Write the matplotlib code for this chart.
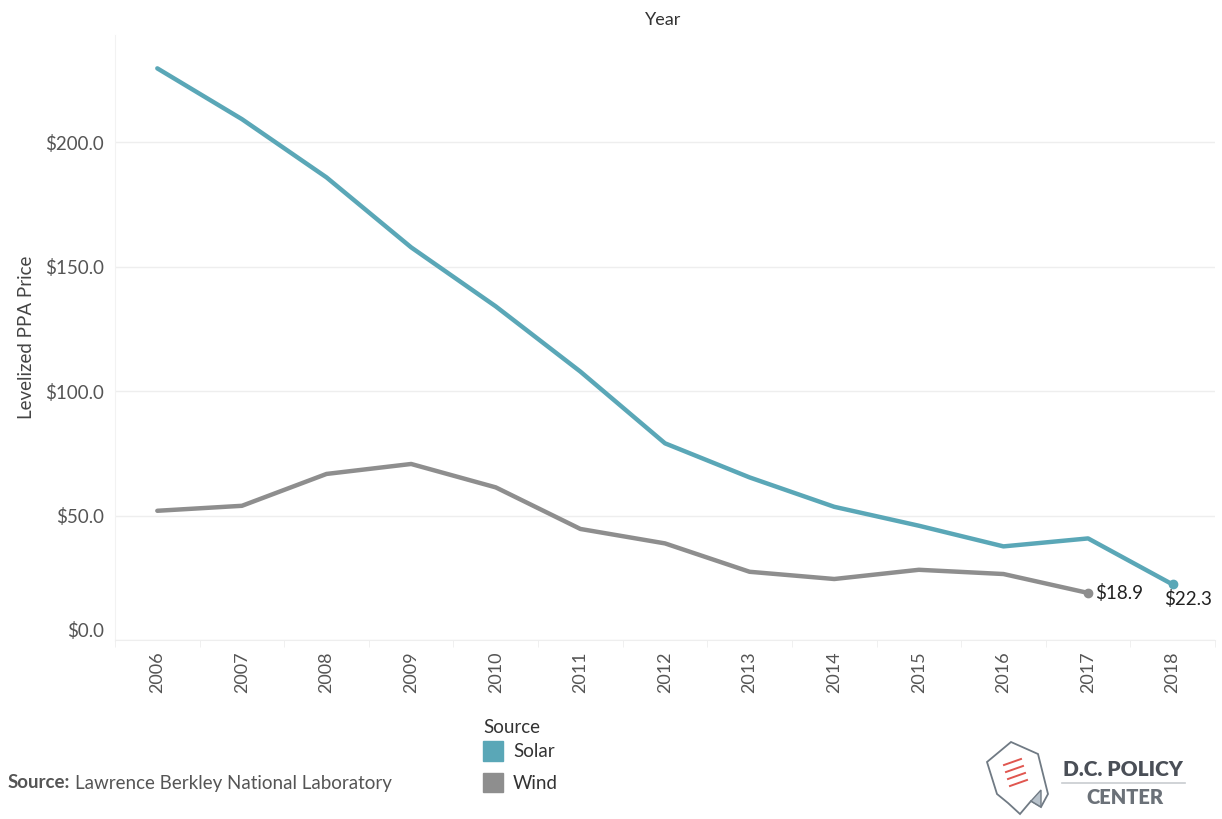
import matplotlib
matplotlib.use('Agg')
import numpy as np
from matplotlib import pyplot as plt
from matplotlib.patches import Patch, Polygon
from matplotlib.lines import Line2D

# data
years = [2006, 2007, 2008, 2009, 2010, 2011, 2012, 2013, 2014, 2015, 2016, 2017, 2018]
solar = [229.6, 209.2, 185.8, 157.7, 134.0, 107.8, 79.0, 65.3, 53.5, 45.9, 37.6, 40.8, 22.3]
wind_years = years[:-1]
wind = [51.9, 53.9, 66.7, 70.7, 61.3, 44.6, 38.8, 27.4, 24.5, 28.2, 26.5, 18.9]
yticks = [0, 50, 100, 150, 200]

solar_c = '#5aa7b7'
wind_c = '#8e8e8e'
txt_c = '#555555'

plt.rcParams['font.family'] = ['Lato', 'DejaVu Sans']

W, H = 1222, 819
fig = plt.figure(figsize=(W / 100, H / 100), dpi=100)
ax = fig.add_axes([115 / W, 1 - 640 / H, 1100 / W, 605 / H])

ax.plot(years, solar, color=solar_c, lw=3.2, solid_capstyle='round', zorder=3)
ax.plot(wind_years, wind, color=wind_c, lw=3.2, solid_capstyle='round', zorder=3)
ax.plot(years[-1], solar[-1], 'o', color=solar_c, ms=6, zorder=4)
ax.plot(wind_years[-1], wind[-1], 'o', color=wind_c, ms=6, zorder=4)
ax.annotate('$%.1f' % wind[-1], (wind_years[-1], wind[-1]), xytext=(5, 0),
            textcoords='offset points', va='center', ha='left', fontsize=13.5, color='#222222')
ax.annotate('$%.1f' % solar[-1], (years[-1], solar[-1]), xytext=(-6, -4),
            textcoords='offset points', va='top', ha='left', fontsize=13.5, color='#222222')

ax.set_xlim(2005.5, 2018.5)
ax.set_ylim(0, 243)
ax.set_yticks(yticks)
ax.set_yticklabels(['$%.1f' % v for v in yticks])
ax.set_xticks(years)
ax.set_xticklabels([str(y) for y in years], rotation=90)
ax.set_xticks(np.arange(2005.5, 2019, 1), minor=True)
ax.tick_params(axis='x', which='major', length=0, pad=8, labelsize=13, labelcolor=txt_c)
ax.tick_params(axis='x', which='minor', length=5, color='#eeeeee', direction='out')
ax.tick_params(axis='y', length=0, pad=8, labelsize=13.5, labelcolor=txt_c)
ax.get_yticklabels()[0].set_va('bottom')
ax.grid(axis='y', color='#eeeeee', lw=1)
ax.set_axisbelow(True)
for s in ['top', 'right']:
    ax.spines[s].set_visible(False)
ax.spines['left'].set_color('#f2f2f2')
ax.spines['bottom'].set_color('#eeeeee')

ax.set_ylabel('Levelized PPA Price', fontsize=13.5, color='#444444', labelpad=7)
fig.text(663 / W, 1 - 20 / H, 'Year', ha='center', va='center', fontsize=13, color='#333333')

# legend
handles = [Patch(color=solar_c), Patch(color=wind_c)]
leg = fig.legend(handles, ['Solar', 'Wind'], title='Source', loc='upper left',
                 bbox_to_anchor=(466 / W, 1 - 702 / H), frameon=False, fontsize=13.5,
                 title_fontsize=13.5, handlelength=1.1, handleheight=1.2,
                 handletextpad=0.5, labelspacing=0.65, alignment='left')
leg._legend_box.sep = 4
for t in leg.get_texts():
    t.set_color('#333333')
leg.get_title().set_color('#333333')

# source note
fig.canvas.draw()
src = fig.text(8 / W, 1 - 783 / H, 'Source:', fontsize=13.5, fontweight='bold', color='#555555', va='center')
bb = src.get_window_extent(fig.canvas.get_renderer())
fig.text((bb.x1 + 5) / W, 1 - 783 / H, 'Lawrence Berkley National Laboratory', fontsize=13.5,
         color='#555555', va='center')

# logo
fig.text(1123 / W, 1 - 769 / H, 'D.C. POLICY', fontsize=15, fontweight='heavy',
         color='#4a4f57', ha='center', va='center')
fig.add_artist(Line2D([1062 / W, 1185 / W], [1 - 783 / H, 1 - 783 / H], color='#c8ccd0', lw=1.2))
fig.text(1125 / W, 1 - 797 / H, 'CENTER', fontsize=14.5, fontweight='heavy',
         color='#6b7178', ha='center', va='center')
page = [(987, 762), (1011, 742), (1038, 754), (1048, 794), (1041, 807), (1031, 801),
        (1020, 814), (1008, 803), (997, 794)]
fig.add_artist(Polygon([(x / W, 1 - y / H) for x, y in page], closed=True, fill=False,
                       ec='#707a84', lw=1.3))
fig.add_artist(Polygon([(x / W, 1 - y / H) for x, y in [(1031, 801), (1041, 790), (1041, 807)]],
                       closed=True, fc='#b9c3cc', ec='#707a84', lw=1))
for i in range(4):
    y0 = 759 + i * 7
    fig.add_artist(Line2D([(1004 + i * 2) / W, (1021 + i * 2) / W], [1 - (y0 + 6) / H, 1 - y0 / H],
                          color='#e0564f', lw=1.4))

fig.savefig('out.png', dpi=100, facecolor='white')
